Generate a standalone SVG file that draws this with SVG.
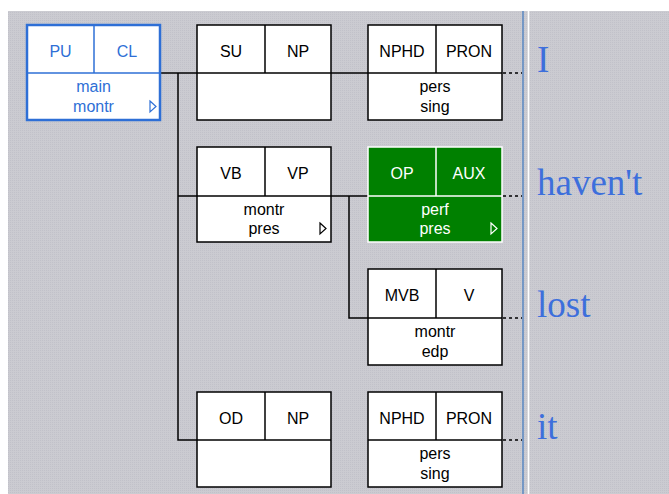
<svg xmlns="http://www.w3.org/2000/svg" width="669" height="494" viewBox="0 0 669 494">
<defs>
<pattern id="stip" width="2" height="2" patternUnits="userSpaceOnUse">
<rect width="2" height="2" fill="#cbcbd1"/>
<rect width="1" height="1" fill="#c1c1c9"/>
</pattern>
</defs>
<style>
.box{fill:#fff;stroke:#000;stroke-width:1.5}
.ln{stroke:#000;stroke-width:1.5;fill:none}
.t{font-family:"Liberation Sans",Arial,sans-serif;font-size:16px;text-anchor:middle;fill:#000}
.sel .box{stroke:#2e6fd6;stroke-width:2.5}
.sel .ln{stroke:#2e6fd6}
.sel .t{fill:#2e6fd6}
.grn .box{fill:#008000;stroke:#fff;stroke-width:1.5}
.grn .ln{stroke:#fff}
.grn .t{fill:#fff}
.tri{fill:none;stroke:#000;stroke-width:1.2}
.sel .tri{stroke:#2e6fd6}
.grn .tri{stroke:#fff}
.dot{stroke:#000;stroke-width:1.5;stroke-dasharray:3 3}
.w{font-family:"Liberation Serif","Times New Roman",serif;font-size:37px;fill:#3d6fdc}
</style>
<rect x="0" y="0" width="669" height="494" fill="#fff"/>
<rect x="8" y="11" width="661" height="483" fill="url(#stip)"/>
<line x1="523" y1="11" x2="523" y2="494" stroke="#5a87c0" stroke-width="1.5"/>
<line x1="528.5" y1="11" x2="528.5" y2="494" stroke="#fff" stroke-width="1.5"/>

<g id="connectors">
<polyline class="ln" points="160,73 197,73"/>
<polyline class="ln" points="178,73 178,440 197,440"/>
<polyline class="ln" points="178,196 197,196"/>
<polyline class="ln" points="331,73 368,73"/>
<polyline class="ln" points="331,196 368,196"/>
<polyline class="ln" points="349,196 349,318 368,318"/>
<line class="dot" x1="503" y1="73" x2="522" y2="73"/>
<line class="dot" x1="503" y1="196" x2="522" y2="196"/>
<line class="dot" x1="503" y1="318" x2="522" y2="318"/>
<line class="dot" x1="503" y1="440" x2="522" y2="440"/>
</g>

<g id="n-pu-cl" class="sel">
<rect class="box" x="27" y="25" width="133" height="95"/>
<line class="ln" x1="94" y1="25" x2="94" y2="73"/>
<line class="ln" x1="27" y1="73" x2="160" y2="73"/>
<text class="t" x="60.5" y="57">PU</text>
<text class="t" x="127" y="57">CL</text>
<text class="t" x="93.5" y="92">main</text>
<text class="t" x="93.5" y="112">montr</text>
<polygon class="tri" points="150,101 156,106.5 150,112"/>
</g>

<g id="n-su-np">
<rect class="box" x="197" y="25" width="134" height="95"/>
<line class="ln" x1="265" y1="25" x2="265" y2="73"/>
<line class="ln" x1="197" y1="73" x2="331" y2="73"/>
<text class="t" x="231" y="57">SU</text>
<text class="t" x="298" y="57">NP</text>
</g>

<g id="n-vb-vp">
<rect class="box" x="197" y="147" width="134" height="95"/>
<line class="ln" x1="265" y1="147" x2="265" y2="196"/>
<line class="ln" x1="197" y1="196" x2="331" y2="196"/>
<text class="t" x="231" y="179">VB</text>
<text class="t" x="298" y="179">VP</text>
<text class="t" x="264" y="215">montr</text>
<text class="t" x="264" y="234">pres</text>
<polygon class="tri" points="320,223 326,228.5 320,234"/>
</g>

<g id="n-od-np">
<rect class="box" x="197" y="392" width="134" height="95"/>
<line class="ln" x1="265" y1="392" x2="265" y2="440"/>
<line class="ln" x1="197" y1="440" x2="331" y2="440"/>
<text class="t" x="231" y="424">OD</text>
<text class="t" x="298" y="424">NP</text>
</g>

<g id="n-nphd-1">
<rect class="box" x="368" y="25" width="134" height="95"/>
<line class="ln" x1="436" y1="25" x2="436" y2="73"/>
<line class="ln" x1="368" y1="73" x2="502" y2="73"/>
<text class="t" x="402" y="57">NPHD</text>
<text class="t" x="469" y="57">PRON</text>
<text class="t" x="435" y="92">pers</text>
<text class="t" x="435" y="112">sing</text>
</g>

<g id="n-op-aux" class="grn">
<rect class="box" x="368" y="147" width="134" height="95"/>
<line class="ln" x1="436" y1="147" x2="436" y2="196"/>
<line class="ln" x1="368" y1="196" x2="502" y2="196"/>
<text class="t" x="402" y="179">OP</text>
<text class="t" x="469" y="179">AUX</text>
<text class="t" x="435" y="215">perf</text>
<text class="t" x="435" y="234">pres</text>
<polygon class="tri" points="491,223 497,228.5 491,234"/>
</g>

<g id="n-mvb-v">
<rect class="box" x="368" y="269" width="134" height="96"/>
<line class="ln" x1="436" y1="269" x2="436" y2="318"/>
<line class="ln" x1="368" y1="318" x2="502" y2="318"/>
<text class="t" x="402" y="301">MVB</text>
<text class="t" x="469" y="301">V</text>
<text class="t" x="435" y="337">montr</text>
<text class="t" x="435" y="357">edp</text>
</g>

<g id="n-nphd-2">
<rect class="box" x="368" y="392" width="134" height="95"/>
<line class="ln" x1="436" y1="392" x2="436" y2="440"/>
<line class="ln" x1="368" y1="440" x2="502" y2="440"/>
<text class="t" x="402" y="424">NPHD</text>
<text class="t" x="469" y="424">PRON</text>
<text class="t" x="435" y="459">pers</text>
<text class="t" x="435" y="479">sing</text>
</g>

<g id="words">
<text class="w" x="537" y="72">I</text>
<text class="w" x="537" y="195">haven't</text>
<text class="w" x="537" y="317">lost</text>
<text class="w" x="537" y="439">it</text>
</g>
</svg>
